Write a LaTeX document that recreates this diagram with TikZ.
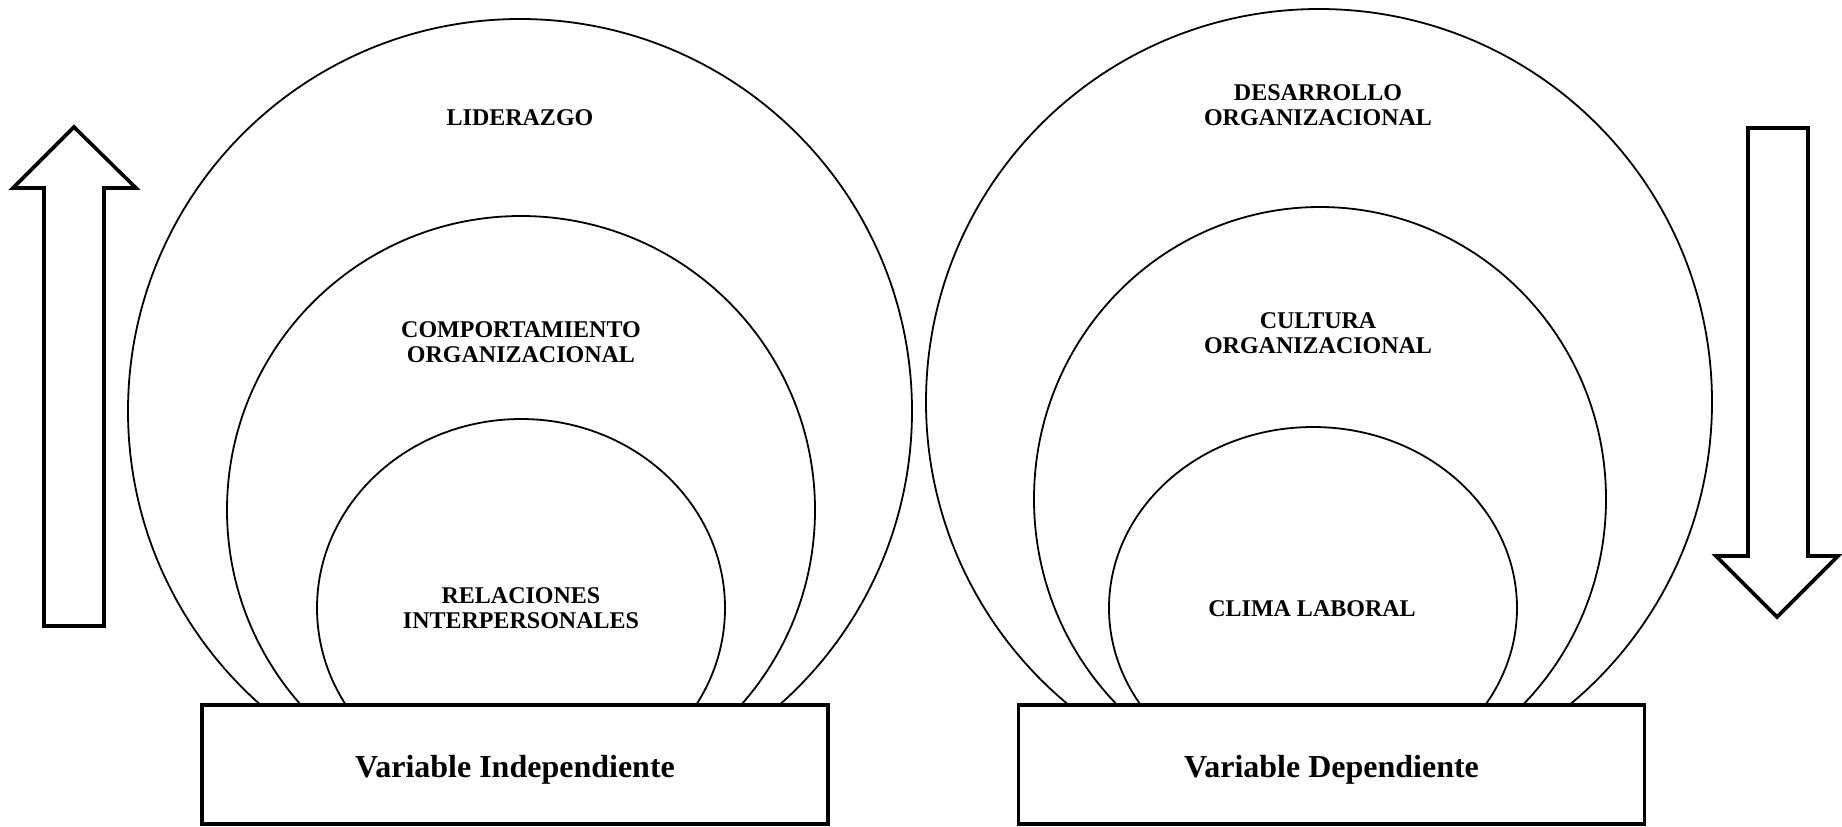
\documentclass[tikz,border=0pt]{standalone}
\usepackage{fontspec}
\setmainfont{Liberation Serif}
\tikzset{
  ring/.style={line width=0.9pt},
  bigarrow/.style={line width=1.8pt, line join=miter},
  varbox/.style={draw, line width=1.8pt, fill=white, minimum width=313pt, minimum height=59.5pt,
    text height=13.4pt, text depth=0pt, font=\fontsize{16}{19}\selectfont\bfseries},
  lbl/.style={align=center, font=\fontsize{12}{12.4}\selectfont\bfseries}
}
\begin{document}
\begin{tikzpicture}[x=0.5pt,y=-0.5pt]
  \useasboundingbox (0,0) rectangle (1842,826);
  % rings, left then right
  \foreach \cx/\cy/\rx/\ry in {520/411/392/392, 521/510/294/294, 521/608/204/189,
                               1319/402/393/393, 1320/499/286/292, 1313/608/204/181}
    \draw[ring] (\cx,\cy) ellipse [x radius=\rx, y radius=\ry];
  \node[varbox] (indep) at (515,764.5) {Variable Independiente};
  \node[varbox] (dep) at (1331.5,764.5) {Variable Dependiente};
  \node[lbl] (lider) at (520,117.5) {LIDERAZGO};
  \node[lbl] (comport) at (521,342.5) {COMPORTAMIENTO\\ORGANIZACIONAL};
  \node[lbl] (relac) at (521,608) {RELACIONES\\INTERPERSONALES};
  \node[lbl] (desarr) at (1318,105.5) {DESARROLLO\\ORGANIZACIONAL};
  \node[lbl] (cultura) at (1318,333) {CULTURA\\ORGANIZACIONAL};
  \node[lbl] (clima) at (1312,608.5) {CLIMA LABORAL};
  % hollow arrows
  \draw[bigarrow] (44,626) -- (44,188) -- (13,188) -- (74,127) -- (136,188) -- (104,188) -- (104,626) -- cycle;
  \draw[bigarrow] (1748,128) -- (1808,128) -- (1808,556) -- (1838,556) -- (1777,617) -- (1716,556) -- (1748,556) -- cycle;
\end{tikzpicture}
\end{document}
